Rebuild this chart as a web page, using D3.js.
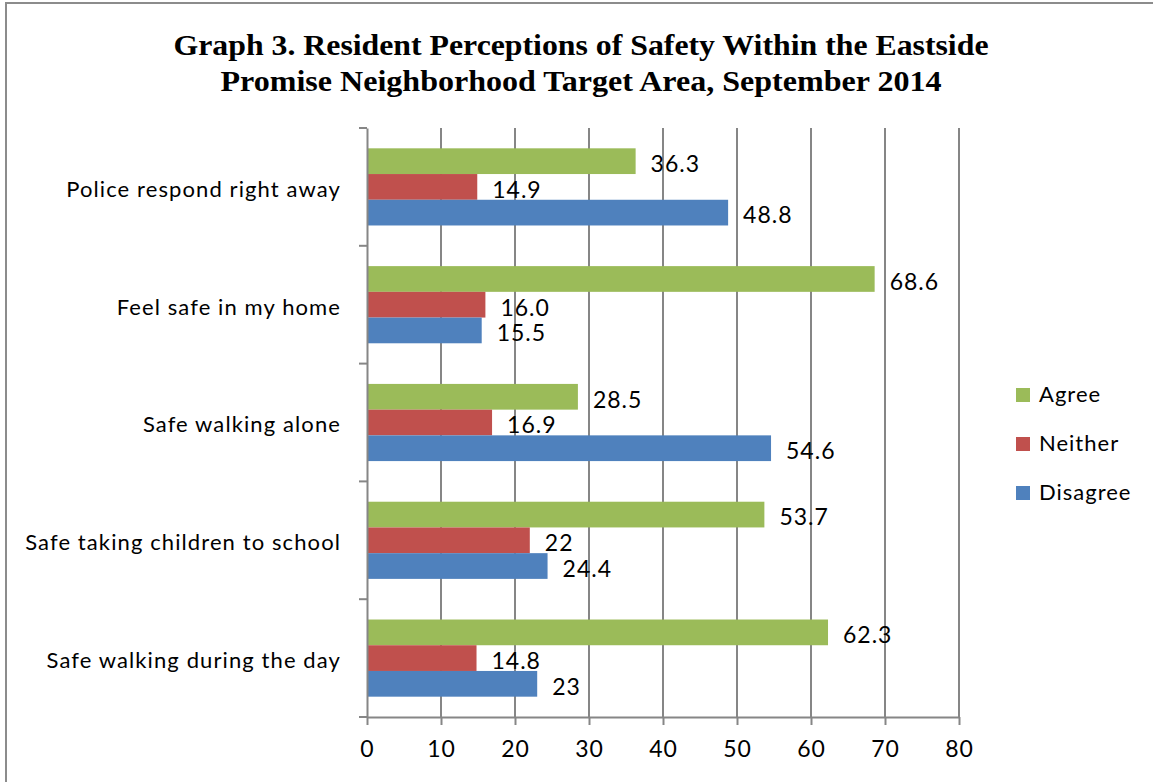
<!DOCTYPE html>
<html><head><meta charset="utf-8">
<script src="https://cdn.jsdelivr.net/npm/d3@7"></script>
<style>body{margin:0;background:#fff}svg{display:block}</style>
</head><body>
<svg id="c" width="1153" height="782"></svg>
<script>
const categories = ["Police respond right away","Feel safe in my home","Safe walking alone","Safe taking children to school","Safe walking during the day"];
const seriesNames = ["Agree","Neither","Disagree"];
const agree    = [36.3, 68.6, 28.5, 53.7, 62.3];
const neither  = [14.9, 16.0, 16.9, 22, 14.8];
const disagree = [48.8, 15.5, 54.6, 24.4, 23];
const valueLabels = [
  ["36.3","68.6","28.5","53.7","62.3"],
  ["14.9","16.0","16.9","22","14.8"],
  ["48.8","15.5","54.6","24.4","23"]
];
const xTicks = [0,10,20,30,40,50,60,70,80];
const colors = ["#9BBB59","#C0504D","#4F81BD"];
const titleLines = ["Graph 3. Resident Perceptions of Safety Within the Eastside","Promise Neighborhood Target Area, September 2014"];

const svg = d3.select("#c");
const font = "Lato, 'Noto Sans', sans-serif";
const series = [agree, neither, disagree];

svg.append("rect").attr("x",6).attr("y",3).attr("width",1160).attr("height",800)
  .attr("fill","#fff").attr("stroke","#8c8c8c").attr("stroke-width",2);

const x = d3.scaleLinear().domain([0,80]).range([367,959]);
const y = d3.scaleBand().domain(categories).range([128,717]);
const inner = d3.scaleBand().domain(seriesNames).range([0,y.bandwidth()]).paddingInner(0).paddingOuter(0.79);

// gridlines
svg.append("g").selectAll("line").data(xTicks.slice(1)).join("line")
  .attr("x1",d=>x(d)).attr("x2",d=>x(d)).attr("y1",128).attr("y2",717)
  .attr("stroke","#868686").attr("stroke-width",2);

// bars
seriesNames.forEach((s,si)=>{
  svg.append("g").selectAll("rect").data(categories).join("rect")
    .attr("x",x(0)).attr("y",c=>y(c)+inner(s))
    .attr("width",(c,i)=>x(series[si][i])-x(0)).attr("height",inner.bandwidth())
    .attr("fill",colors[si]);
  svg.append("g").selectAll("text").data(categories).join("text")
    .attr("x",(c,i)=>x(series[si][i])+15).attr("y",c=>y(c)+inner(s)+inner.bandwidth()/2+5)
    .attr("dominant-baseline","middle")
    .attr("font-family",font).attr("font-size",23).attr("letter-spacing",1).attr("fill","#000")
    .text((c,i)=>valueLabels[si][i]);
});

// y axis
const yAxis = d3.axisLeft(y).tickSize(0).tickPadding(26);
const gy = svg.append("g").attr("transform",`translate(${x(0)},0)`).call(yAxis);
gy.select(".domain").attr("stroke","#868686").attr("stroke-width",2);
gy.selectAll("text").attr("font-family",font).attr("font-size",22).attr("letter-spacing",1.1)
  .attr("fill","#000").attr("dy","0.45em");
svg.append("g").selectAll("line").data(categories.map(c=>y(c)).concat([717])).join("line")
  .attr("x1",x(0)-8).attr("x2",x(0)).attr("y1",d=>d).attr("y2",d=>d)
  .attr("stroke","#868686").attr("stroke-width",2);

// x axis
const xAxis = d3.axisBottom(x).tickValues(xTicks).tickSize(8).tickPadding(16).tickSizeOuter(0);
const gx = svg.append("g").attr("transform","translate(0,717)").call(xAxis);
gx.select(".domain").attr("stroke","#868686").attr("stroke-width",2);
gx.selectAll(".tick line").attr("stroke","#868686").attr("stroke-width",2);
gx.selectAll("text").attr("font-family",font).attr("font-size",23).attr("letter-spacing",1).attr("fill","#000");

// legend
const leg = svg.append("g");
seriesNames.forEach((s,i)=>{
  const cy = 395 + i*49;
  leg.append("rect").attr("x",1016).attr("y",cy-7).attr("width",14).attr("height",14).attr("fill",colors[i]);
  leg.append("text").attr("x",1039).attr("y",cy+1).attr("dominant-baseline","middle")
    .attr("font-family",font).attr("font-size",22).attr("letter-spacing",1).attr("fill","#000").text(s);
});

// title
svg.append("g").selectAll("text").data(titleLines).join("text")
  .attr("x",581).attr("y",(d,i)=>55+i*36).attr("text-anchor","middle")
  .attr("font-family","'Liberation Serif', 'Times New Roman', serif").attr("font-weight","bold")
  .attr("font-size",30).attr("fill","#000")
  .attr("textLength",(d,i)=>i===0?815:721).attr("lengthAdjust","spacingAndGlyphs")
  .text(d=>d);
</script>
</body></html>
